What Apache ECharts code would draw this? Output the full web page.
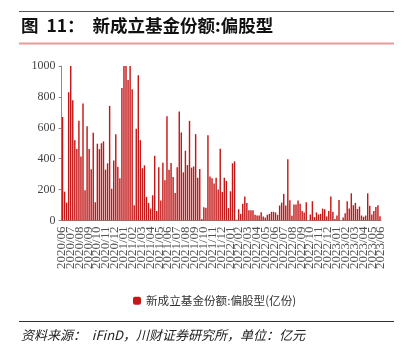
<!DOCTYPE html>
<html>
<head>
<meta charset="utf-8">
<script src="https://cdn.jsdelivr.net/npm/echarts@6/dist/echarts.min.js"></script>
<style>
html,body{margin:0;padding:0;background:#fff;}
#chart{width:414px;height:355px;}
</style>
</head>
<body>
<div id="chart"></div>
<script>
// 新成立基金份额:偏股型（周度，亿份）
var firstWeek = '2020-06-12';
var fundShares = [
	670,187,116,830,1000,778,520,462,645,415,757,196,610,462,331,568,118,497,462,500,
	512,329,370,742,206,389,559,348,273,858,1000,1000,910,1000,850,99,594,940,520,338,
	357,153,114,77,163,419,62,344,129,374,260,675,329,372,282,178,344,705,570,312,
	452,359,645,342,350,559,277,333,9,86,82,551,284,273,240,277,200,465,185,277,
	256,80,189,370,383,5,73,43,108,155,114,67,67,67,37,32,32,54,26,19,
	37,43,56,56,52,37,97,116,172,97,396,131,30,103,103,129,108,62,52,118,
	0,39,125,22,52,39,43,77,73,26,62,155,56,9,32,133,0,19,47,125,
	77,176,99,114,75,90,32,24,32,176,95,39,62,88,99,28
];
// 横轴月份刻度
var monthLabels = [
	'2020/06','2020/07','2020/08','2020/09','2020/10','2020/11','2020/12',
	'2021/01','2021/02','2021/03','2021/04','2021/05','2021/06','2021/07','2021/08','2021/09','2021/10','2021/11','2021/12',
	'2022/01','2022/02','2022/03','2022/04','2022/05','2022/06','2022/07','2022/08','2022/09','2022/10','2022/11','2022/12',
	'2023/01','2023/02','2023/03','2023/04','2023/05','2023/06'
];
var yTicks = [0, 200, 400, 600, 800, 1000];
var seriesName = '新成立基金份额:偏股型(亿份)';

// 周度日期
var weeks = [];
var d0 = new Date(firstWeek + 'T00:00:00Z');
for (var i = 0; i < fundShares.length; i++) {
	var d = new Date(d0.getTime() + i * 7 * 86400000);
	var m = d.getUTCMonth() + 1;
	var day = d.getUTCDate();
	weeks.push(d.getUTCFullYear() + '/' + (m < 10 ? '0' + m : m) + '/' + (day < 10 ? '0' + day : day));
}

var myChart = echarts.init(document.getElementById('chart'));
var option = {
	animation: false,
	backgroundColor: '#fff',
	grid: {
		left: 61.5,
		right: 33,
		top: 66,
		bottom: 134.5
	},
	legend: {
		data: [seriesName],
		left: 128,
		top: 290,
		itemWidth: 8,
		itemHeight: 8,
		itemGap: 4,
		textStyle: {
			fontFamily: 'Noto Sans CJK SC',
			fontSize: 11.6,
			color: '#333'
		}
	},
	xAxis: [
		{
			type: 'category',
			data: weeks,
			axisLine: { lineStyle: { color: '#8c968c', width: 1 } },
			axisTick: { show: false },
			axisLabel: { show: false }
		},
		{
			type: 'category',
			data: monthLabels,
			position: 'bottom',
			boundaryGap: false,
			axisLine: { show: false },
			axisTick: { show: false },
			axisLabel: {
				interval: 0,
				hideOverlap: false,
				rotate: 90,
				margin: 6,
				fontFamily: 'Liberation Serif',
				fontSize: 13,
				color: '#505050'
			}
		}
	],
	yAxis: {
		type: 'value',
		min: yTicks[0],
		max: yTicks[yTicks.length - 1],
		interval: 200,
		axisLine: { show: true, lineStyle: { color: '#8c8c8c', width: 1 } },
		axisTick: { show: true, length: 3, lineStyle: { color: '#8c8c8c' } },
		splitLine: { show: false },
		axisLabel: {
			margin: 6,
			formatter: function (v) { return String(v); },
			fontFamily: 'Liberation Serif',
			fontSize: 12,
			color: '#444'
		}
	},
	series: [
		{
			name: seriesName,
			type: 'bar',
			xAxisIndex: 0,
			data: fundShares,
			barCategoryGap: '30%',
			itemStyle: {
				color: '#c41818'
			}
		}
	],
	graphic: [
		{ type: 'line', shape: { x1: 19, y1: 11.5, x2: 394, y2: 11.5 }, style: { stroke: '#555', lineWidth: 1 } },
		{ type: 'line', shape: { x1: 19, y1: 43.5, x2: 394, y2: 43.5 }, style: { stroke: '#e89a9a', lineWidth: 2 } },
		{
			type: 'text', left: 21, top: 17,
			style: {
				text: '图  11：  新成立基金份额:偏股型',
				font: 'bold 17.5px "Noto Sans CJK SC"',
				fill: '#111'
			}
		},
		{ type: 'line', shape: { x1: 19, y1: 321.5, x2: 394, y2: 321.5 }, style: { stroke: '#333', lineWidth: 1 } },
		{
			type: 'text', left: 21, top: 329,
			style: {
				text: '资料来源：  iFinD，川财证券研究所，单位：亿元',
				font: 'italic 13px "Noto Sans CJK SC"',
				fill: '#222'
			}
		}
	]
};
myChart.setOption(option);
</script>
</body>
</html>
